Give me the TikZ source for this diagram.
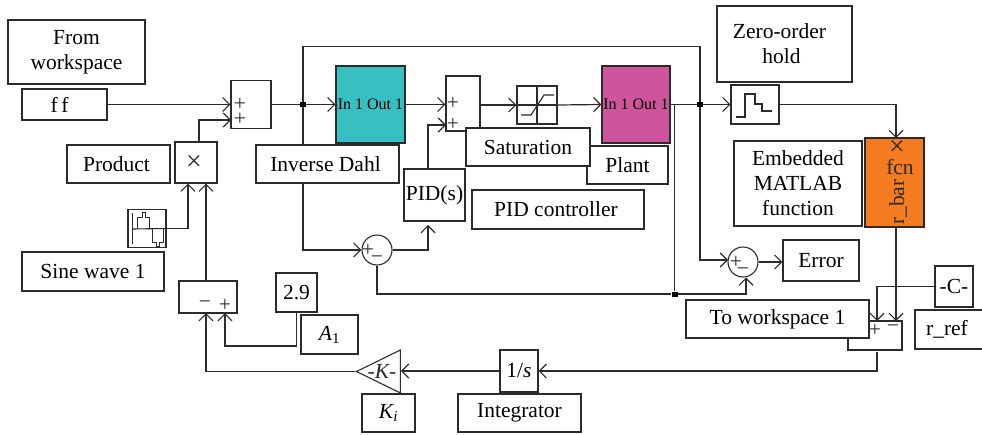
\documentclass[tikz,border=0pt]{standalone}
\usepackage{fontspec}
\setmainfont{Liberation Serif}
\usepackage{xcolor}
\usetikzlibrary{arrows.meta, shapes.geometric, backgrounds}
\definecolor{Ink}{HTML}{2B2B2B}
\definecolor{DahlTeal}{HTML}{38BFC1}
\definecolor{PlantPink}{HTML}{CE559B}
\definecolor{FcnOrange}{HTML}{F47B20}
\tikzset{
    blockbox/.style={draw=Ink, fill=white, line width=1.1pt, inner sep=0pt, align=center,
                     font=\fontsize{21.5}{25}\selectfont},
    subsys/.style={blockbox, font=\fontsize{16}{18}\selectfont},
    signmark/.style={inner sep=0pt, text=Ink, font=\fontsize{21.5}{20}\selectfont},
    crossmark/.style={inner sep=0pt, text=Ink, font=\fontsize{28}{28}\selectfont},
    sumround/.style={draw=Ink, fill=white, line width=1.1pt, circle, inner sep=0pt, minimum size=30pt},
    jointdot/.style={fill=black, inner sep=0pt, minimum width=6pt, minimum height=5pt},
    wire/.style={draw=Ink, line width=1.2pt},
    feed/.style={wire, -{Straight Barb[length=7pt, width=14pt, line width=1.2pt]}},
    glyph/.style={draw=Ink, line width=1.1pt}
}
\begin{document}
\begin{tikzpicture}[x=1pt, y=-1pt]
    \useasboundingbox (0,0) rectangle (982,434);

    \node[blockbox, minimum width=137pt, minimum height=64pt] (fromlabel) at (76.5,52) {From\\workspace};
    \node[blockbox, minimum width=85pt, minimum height=31pt] (ffbox) at (64.5,104.5) {f\,f\kern10pt};
    \node[blockbox, minimum width=40pt, minimum height=48pt] (sumA) at (251,104.5) {};
    \node[blockbox, minimum width=103pt, minimum height=38pt] (productlabel) at (118.5,164) {Product\kern4pt};
    \node[blockbox, minimum width=42pt, minimum height=41pt] (mulbox) at (196,162.5) {};
    \node[crossmark] (multmark) at (194,163) {×};
    \node[blockbox, minimum width=143pt, minimum height=38pt] (dahllabel) at (327.5,164) {Inverse Dahl\kern4pt};
    \node[subsys, fill=DahlTeal, minimum width=69pt, minimum height=77pt] (dahl) at (370.5,104.5) {In 1 Out 1};
    \node[blockbox, minimum width=34pt, minimum height=55pt] (sumB) at (463,103.5) {};
    \node[blockbox, minimum width=40pt, minimum height=38pt] (satbox) at (537,105) {};
    \node[subsys, fill=PlantPink, minimum width=68pt, minimum height=77pt] (plant) at (636,104.5) {In 1 Out 1};
    \node[blockbox, minimum width=81pt, minimum height=38pt] (plantlabel) at (627.5,165) {Plant};
    \node[blockbox, minimum width=124pt, minimum height=38pt] (satlabel) at (528,147) {Saturation};
    \node[blockbox, minimum width=61pt, minimum height=52pt] (pidbox) at (434.5,195) {PID(s)};
    \node[blockbox, minimum width=172pt, minimum height=39pt] (pidlabel) at (558,209.5) {PID controller\kern4pt};
    \node[blockbox, minimum width=135pt, minimum height=76pt] (zohlabel) at (784.5,44) {Zero-order\kern10pt\\hold\kern6pt};
    \node[blockbox, minimum width=48pt, minimum height=39pt] (zohbox) at (755,104.5) {};
    \node[blockbox, minimum width=128pt, minimum height=85pt] (embedlabel) at (798,183.5) {Embedded\\MATLAB\\function};
    \node[blockbox, fill=FcnOrange, minimum width=59pt, minimum height=89pt] (fcnbox) at (894.5,182.5) {};
    \node[crossmark] (fcnmark) at (897,148) {×};
    \node[signmark] (fcnname) at (900,167) {fcn};
    \node[signmark, rotate=90] (fcnport) at (898,202) {r\_bar};
    \node[sumround] (sumC) at (377,250) {};
    \node[sumround] (sumD) at (743,262) {};
    \node[blockbox, minimum width=76pt, minimum height=41pt] (errbox) at (821,260.5) {Error};
    \node[blockbox, minimum width=38pt, minimum height=41pt] (constC) at (954,286.5) {-C-};
    \node[blockbox, minimum width=70pt, minimum height=39pt] (refbox) at (950,329.5) {r\_ref\kern6pt};
    \node[blockbox, minimum width=54pt, minimum height=29pt] (sumE) at (875,335.5) {};
    \node[blockbox, minimum width=183pt, minimum height=38pt] (towslabel) at (777.5,319) {To workspace 1};
    \node[blockbox, minimum width=38pt, minimum height=42pt] (intbox) at (519,371) {1/\textit{s}};
    \node[blockbox, minimum width=123pt, minimum height=38pt] (intlabel) at (519.5,413) {Integrator};
    \node[blockbox, isosceles triangle, shape border rotate=180, isosceles triangle stretches,
          minimum width=43pt, minimum height=44pt] (gain) at (387,371.5) {};
    \node[signmark] (gainmark) at (382,371) {\textit{-K-}};
    \node[blockbox, minimum width=53pt, minimum height=38pt] (gainlabel) at (388.5,413) {\textit{K\textsubscript{i}}};
    \node[blockbox, minimum width=58pt, minimum height=32pt] (sumF) at (208,297) {};
    \node[blockbox, minimum width=41pt, minimum height=39pt] (numbox) at (296.5,292.5) {2.9};
    \node[blockbox, minimum width=57pt, minimum height=39pt] (amplabel) at (329.5,334.5) {\textit{A}\textsubscript{1}};
    \node[blockbox, minimum width=38pt, minimum height=38pt] (sinebox) at (147,228.5) {};
    \node[blockbox, minimum width=142pt, minimum height=39pt] (sinelabel) at (93,271.5) {Sine wave 1};

    \node[signmark] (sumAp) at (240,104.5) {+};
    \node[signmark] (sumAq) at (240,119) {+};
    \node[signmark] (sumBp) at (453,103) {+};
    \node[signmark] (sumBq) at (453,124) {+};
    \node[signmark] (sumCp) at (368,250) {+};
    \node[signmark] (sumCq) at (377,260) {−};
    \node[signmark] (sumDp) at (736,262) {+};
    \node[signmark] (sumDq) at (743,272) {−};
    \node[signmark] (sumEp) at (875,330) {+};
    \node[signmark] (sumEq) at (893,329) {−};
    \node[signmark] (sumFq) at (205,305) {−};
    \node[signmark] (sumFp) at (225,305) {+};

    \node[jointdot] (jointA) at (303,104.5) {};
    \node[jointdot] (jointB) at (700,104.5) {};
    \node[jointdot] (jointC) at (674.5,294) {};

    \coordinate (loopTop) at (500,46.5);
    \coordinate (sumAin) at (231,120);
    \coordinate (mulInA) at (188,183.5);
    \coordinate (mulInB) at (206,183.5);
    \coordinate (mulOut) at (199,142);
    \coordinate (sumBin) at (446,125);
    \coordinate (pidIn) at (428,225);
    \coordinate (pidOut) at (428,169);
    \coordinate (sumDin) at (746,277.5);
    \coordinate (sumDwest) at (728,260);
    \coordinate (fcnIn) at (896,138);
    \coordinate (fcnOut) at (896,227);
    \coordinate (sumEa) at (877,321);
    \coordinate (sumEb) at (896,321);
    \coordinate (sumEout) at (877,352);
    \coordinate (sumFa) at (206,313);
    \coordinate (sumFb) at (225,313);
    \coordinate (numBend) at (225,346);

    \begin{pgfonlayer}{background}
        \draw[feed] (ffbox.east) -- (sumA.west);
        \draw[feed] (mulOut) |- (sumAin);
        \draw[wire] (sumA.east) -- (jointA);
        \draw[feed] (jointA) -- (dahl.west);
        \draw[wire] (jointA) |- (loopTop) -| (jointB);
        \draw[feed] (jointA) |- (sumC.west);
        \draw[feed] (dahl.east) -- (dahl.east -| sumB.west);
        \draw[feed] (sumB.east |- satbox.west) -- (satbox.west);
        \draw[feed] (satbox.east) -- (plant.west);
        \draw[feed] (pidOut) |- (sumBin);
        \draw[feed] (sumC.east) -| (pidIn);
        \draw[wire] (sumC.south) |- (jointC);
        \draw[wire] (plant.east) -- (jointB);
        \draw[wire] (jointC |- plant.east) -- (jointC);
        \draw[feed] (jointC) -| (sumDin);
        \draw[feed] (jointB) -- (zohbox.west);
        \draw[feed] (jointB) |- (sumDwest);
        \draw[feed] (sumD.east) -- (sumD.east -| errbox.west);
        \draw[feed] (zohbox.east) -| (fcnIn);
        \draw[feed] (fcnOut) -- (sumEb);
        \draw[feed] (constC.west) -| (sumEa);
        \draw[feed] (sumEout) |- (intbox.east);
        \draw[feed] (intbox.west) -- (intbox.west -| gain.lower side);
        \draw[feed] (gain.apex) -| (sumFa);
        \draw[feed] (numbox.south) |- (numBend) -- (sumFb);
        \draw[feed] (sumF.north -| mulInB) -- (mulInB);
        \draw[feed] (sinebox.east) -| (mulInA);
    \end{pgfonlayer}

    \draw[glyph] (satbox.north) -- (satbox.south);
    \draw[glyph] (satbox.west) -- (satbox.east);
    \draw[glyph] (521,115) -- (531,115) -- (544,95) -- (554,95);
    \draw[glyph] (736,117) -- (745,117) -- (745,94) -- (755,94) -- (755,104) -- (762,104) -- (762,111) -- (772,111);
    \draw[glyph] (132.5,213) -- (132.5,244);
    \draw[glyph] (132.5,229) -- (sinebox.east);
    \draw[glyph, line width=.8pt] (137,229) -- (137,217) -- (142,217) -- (142,212) -- (145,212) -- (145,217) -- (149,217) -- (149,229);
    \draw[glyph, line width=.8pt] (152,229) -- (152,242) -- (156,242) -- (156,246) -- (159,246) -- (159,242) -- (163,242) -- (163,229);
\end{tikzpicture}
\end{document}
